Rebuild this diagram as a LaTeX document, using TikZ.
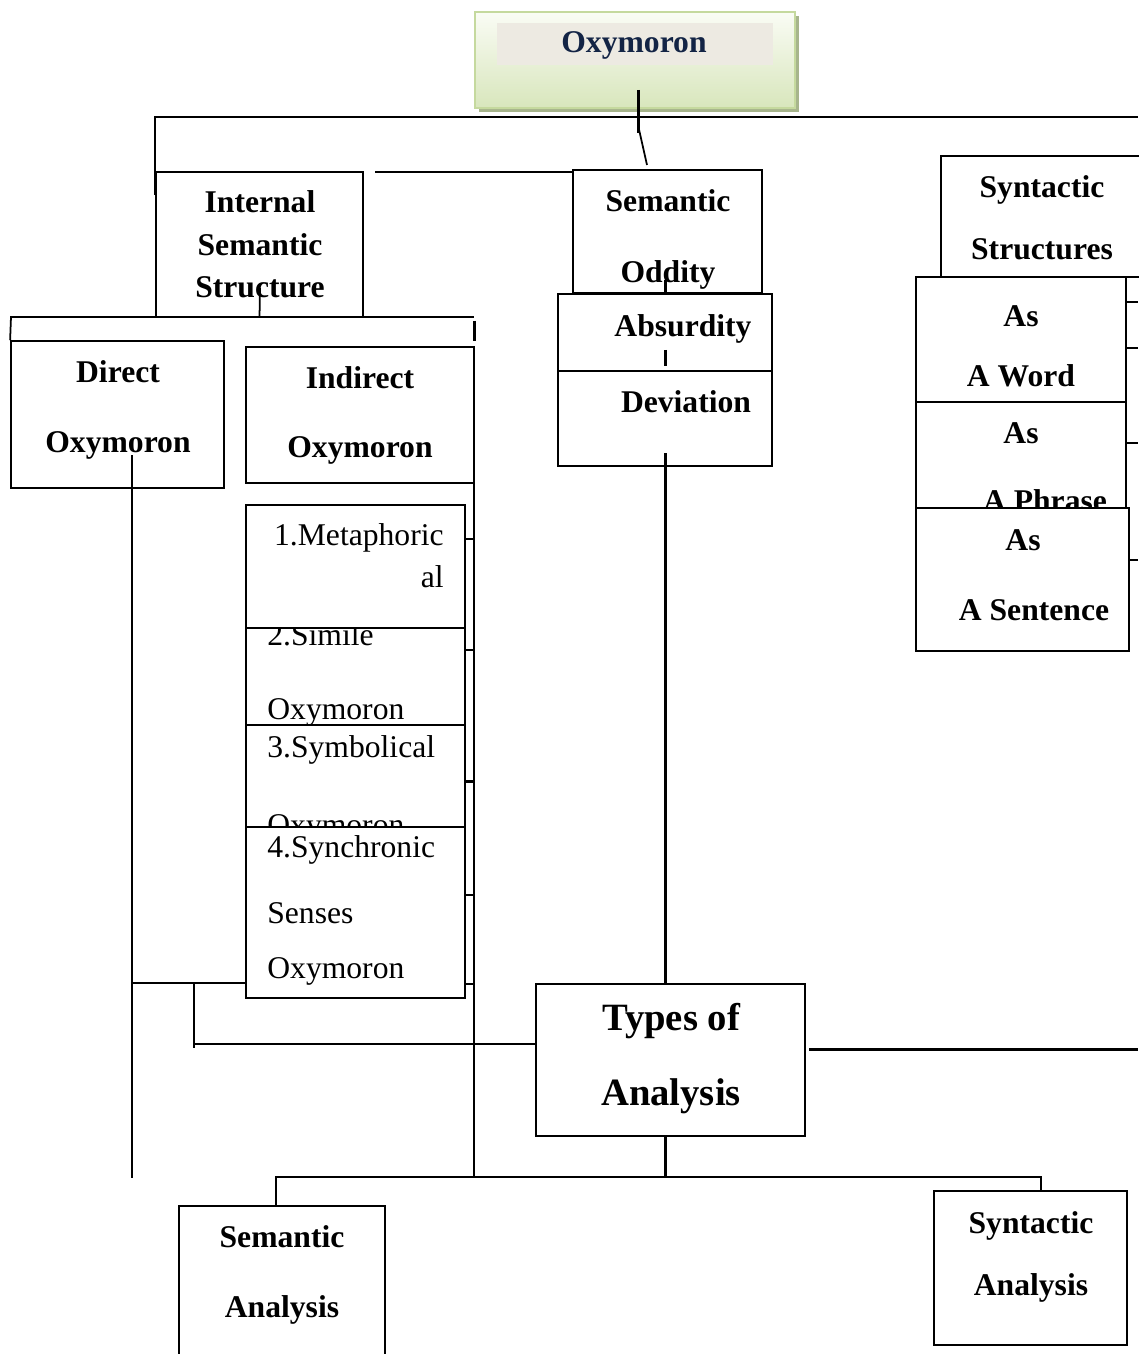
\documentclass[tikz,border=0pt]{standalone}
\usepackage{fontspec}
\setmainfont{Liberation Serif}
\usetikzlibrary{fit}
\definecolor{OxText}{HTML}{132445}
\definecolor{OxBorder}{HTML}{C5D99E}
\definecolor{OxTop}{HTML}{FAFCF5}
\definecolor{OxBottom}{HTML}{D8E6BC}
\definecolor{OxShadow}{HTML}{A7B58C}
\definecolor{OxBand}{HTML}{EDEAE2}
\tikzset{
  box/.style={draw,fill=white,line width=1pt,inner sep=0pt},
  hdtext/.style={font=\bfseries\fontsize{18}{20}\selectfont,anchor=base,inner sep=0pt},
  bodytext/.style={font=\fontsize{18}{20}\selectfont,inner sep=0pt},
  bigtext/.style={font=\bfseries\fontsize{22}{24}\selectfont,anchor=base,inner sep=0pt},
  barline/.style={line width=1.7pt},
  ruleline/.style={line width=1pt}
}

\begin{document}
\begin{tikzpicture}[x=0.02cm,y=-0.02cm]
\path[use as bounding box] (0,0) rectangle (1138,1354);
% title
\fill[OxShadow] (479,16) rectangle (799,112);
\node[fit={(475,12) (795,108)},inner sep=0pt,draw=OxBorder,line width=1.5pt,top color=OxTop,bottom color=OxBottom] (oxy) {};
\node[fit={(497,23) (773,65)},inner sep=0pt,fill=OxBand] (oxyband) {};
\node[hdtext,text=OxText] (oxytext) at (634,53) {Oxymoron};
% syntactic side
\node[box,fit={(941,156) (1145,277)}] (sss) {};
\node[hdtext] (sss-a) at (1042,198) {Syntactic};
\node[hdtext] (sss-b) at (1042,260) {Structures};
\node[box,fit={(916,277) (1126,402)}] (aw) {};
\node[hdtext] (aw-a) at (1021,327) {As};
\node[hdtext] (aw-b) at (1021,386) {A Word};
\node[box,fit={(916,402) (1126,508)}] (ap) {};
\node[hdtext] (ap-a) at (1021,443) {As};
\begin{scope}
\clip (ap.north west) rectangle (ap.south east);
\node[hdtext] (ap-b) at (1045,511) {A Phrase};
\end{scope}
\node[box,fit={(916,508) (1129,651)}] (asen) {};
\node[hdtext] (asen-a) at (1023,550) {As};
\node[hdtext] (asen-b) at (1034,620) {A Sentence};
% semantic oddity
\node[box,fit={(573,170) (762,293)}] (sod) {};
\node[hdtext] (sod-a) at (668,212) {Semantic};
\node[hdtext] (sod-b) at (668,283) {Oddity};
\node[box,fit={(558,294) (772,371)}] (abs) {};
\node[hdtext] (abs-a) at (683,337) {Absurdity};
\node[box,fit={(558,371) (772,466)}] (dev) {};
\node[hdtext] (dev-a) at (686,412) {Deviation};
% internal semantic structure
\node[box,fit={(156,172) (363,317)}] (iss) {};
\node[hdtext] (iss-a) at (260,213) {Internal};
\node[hdtext] (iss-b) at (260,256) {Semantic};
\node[hdtext] (iss-c) at (260,298) {Structure};
\node[box,fit={(11,341) (224,488)}] (dir) {};
\node[hdtext] (dir-a) at (118,382) {Direct};
\node[hdtext] (dir-b) at (118,452) {Oxymoron};
\node[box,fit={(246,347) (474,483)}] (ind) {};
\node[hdtext] (ind-a) at (360,388) {Indirect};
\node[hdtext] (ind-b) at (360,457) {Oxymoron};
% kinds of indirect oxymoron
\node[box,fit={(246,505) (465,628)}] (m1) {};
\node[bodytext,anchor=base east] (m1-a) at (444,545) {1.Metaphoric};
\node[bodytext,anchor=base east] (m1-b) at (444,587) {al};
\node[box,fit={(246,628) (465,725)}] (m2) {};
\begin{scope}
\clip (m2.north west) rectangle (m2.south east);
\node[bodytext,anchor=base west] (m2-a) at (267,645) {2.Simile};
\end{scope}
\node[bodytext,anchor=base west] (m2-b) at (267,719) {Oxymoron};
\node[box,fit={(246,725) (465,827)}] (m3) {};
\node[bodytext,anchor=base west] (m3-a) at (267,757) {3.Symbolical};
\begin{scope}
\clip (m3.north west) rectangle (m3.south east);
\node[bodytext,anchor=base west] (m3-b) at (267,835) {Oxymoron};
\end{scope}
\node[box,fit={(246,827) (465,998)}] (m4) {};
\node[bodytext,anchor=base west] (m4-a) at (267,857) {4.Synchronic};
\node[bodytext,anchor=base west] (m4-b) at (267,923) {Senses};
\node[bodytext,anchor=base west] (m4-c) at (267,978) {Oxymoron};
% analysis
\node[box,fit={(536,984) (805,1136)}] (toa) {};
\node[bigtext] (toa-a) at (671,1030) {Types of};
\node[bigtext] (toa-b) at (671,1105) {Analysis};
\node[box,fit={(179,1206) (385,1362)}] (sema) {};
\node[hdtext] (sema-a) at (282,1247) {Semantic};
\node[hdtext] (sema-b) at (282,1317) {Analysis};
\node[box,fit={(934,1191) (1127,1345)}] (syna) {};
\node[hdtext] (syna-a) at (1031,1233) {Syntactic};
\node[hdtext] (syna-b) at (1031,1295) {Analysis};
% connectors
\coordinate (edge) at (1138,0);
\draw[barline] (638,90) -- (638,133);
\draw[ruleline] (638,125) -- (647,165);
\draw[barline] (155,195) -- (155,117) -- (edge |- 0,117);
\draw[barline] (375,172) -- (sod.west |- 0,172);
\draw[ruleline] (260,288) -- (iss.south);
\draw[barline] (10,317) -- (474,317);
\draw[barline] (474,321) -- (474,341);
\draw[ruleline] (11,317) -- (dir.north west);
\draw[barline] (132,455) -- (132,1178);
\draw[ruleline] (474,483) -- (474,1177);
\foreach \y in {539,650,781} \draw[barline] (465,\y) -- (474,\y);
\foreach \y in {895,984} \draw[ruleline] (465,\y) -- (474,\y);
\draw[ruleline] (132,983) -- (m4.west |- 0,983);
\draw[ruleline] (194,983) -- (194,1048);
\draw[ruleline] (194,1044) -- (toa.west |- 0,1044);
\draw[barline] (665,280) -- (665,0 |- sod.south);
\draw[barline] (665,350) -- (665,366);
\draw[barline] (665,453) -- (665,0 |- toa.north);
\draw[barline] (809,1049) -- (edge |- 0,1049);
\draw[barline] (665,0 |- toa.south) -- (665,1177);
\draw[ruleline] (276,0 |- sema.north) -- (276,1177) -- (1041,1177) -- (1041,0 |- syna.north);
\draw[ruleline] (aw.east |- 0,302) -- (edge |- 0,302);
\draw[barline] (aw.east |- 0,348) -- (edge |- 0,348);
\draw[barline] (ap.east |- 0,443) -- (edge |- 0,443);
\draw[barline] (asen.east |- 0,560) -- (edge |- 0,560);
\end{tikzpicture}
\end{document}
